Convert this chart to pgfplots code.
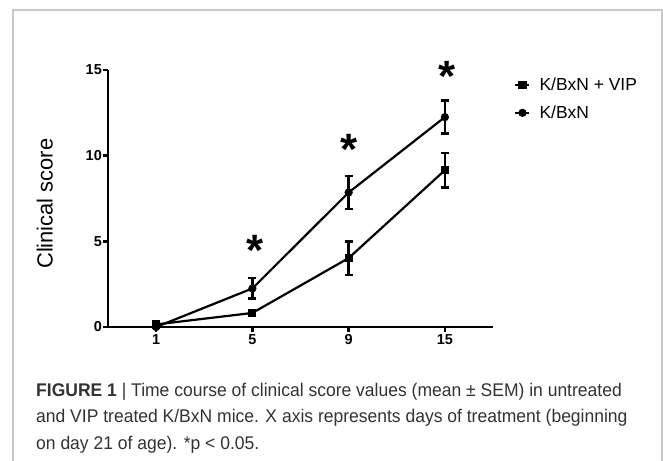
\documentclass[border=0pt]{standalone}
\usepackage{fontspec}
\setmainfont{Liberation Sans}
\newfontfamily\capfont[FakeStretch=0.955]{Liberation Sans}
\usepackage{pgfplots}
\pgfplotsset{compat=1.18}
\definecolor{bordergray}{RGB}{200,200,200}
\definecolor{captext}{RGB}{50,50,50}

\pgfplotstableread{
x y e
0 0.15 0
1 0.82 0
2 4.02 0.98
3 9.15 1.02
}\vipdata
\pgfplotstableread{
x y e
0 0.0 0
1 2.25 0.6
2 7.85 0.97
3 12.25 0.97
}\kbxndata

\begin{document}
\begin{tikzpicture}[x=1bp,y=1bp]
\useasboundingbox (0,0) rectangle (663,-461);
\draw[bordergray, line width=2bp] (13,-463) -- (13,-10) -- (662,-10) -- (662,-463);
\begin{axis}[
  at={(108bp,-327bp)}, anchor=south west,
  scale only axis, width=385bp, height=257bp,
  xmin=-0.5, xmax=3.5, ymin=0, ymax=15,
  axis x line*=bottom, axis y line*=left,
  axis line style={line width=2.5bp, black},
  xtick={0,1,2,3}, xticklabels={1,5,9,15},
  ytick={0,5,10,15},
  tick align=outside, major tick length=5bp,
  tick style={line width=2.5bp, black},
  tick label style={font=\fontsize{14.5}{14.5}\selectfont\bfseries},
  yticklabel style={inner sep=1bp},
  xticklabel style={inner sep=2bp},
  /pgf/number format/assume math mode=true,
  ylabel={Clinical score},
  every axis y label/.style={at={(axis description cs:-0.164,0.48)}, rotate=90, anchor=center, font=\fontsize{22}{22}\selectfont},
  clip=false,
  legend style={at={(axis description cs:1.055,0.975)}, anchor=north west, draw=none, fill=none,
    inner sep=0pt, font=\fontsize{17.5}{17.5}\selectfont, row sep=12bp, column sep=8bp,
    nodes={inner sep=1bp}},
  legend cell align=left,
  legend image code/.code={\draw[mark repeat=2,mark phase=2,#1] plot coordinates {(0bp,0bp) (7bp,0bp) (14bp,0bp)};},
]
\addplot[black, line width=2.2bp, mark=square*, mark size=3.6bp, mark options={line width=1bp},
  error bars/.cd, y dir=both, y explicit, error bar style={line width=2.5bp},
  error mark=-, error mark options={rotate=90, line width=2.5bp, mark size=4bp, black}]
  table[x=x, y=y, y error=e] {\vipdata};
\addlegendentry{K/BxN + VIP}
\addplot[black, line width=2.2bp, mark=*, mark size=3.6bp, mark options={line width=1bp},
  error bars/.cd, y dir=both, y explicit, error bar style={line width=2.5bp},
  error mark=-, error mark options={rotate=90, line width=2.5bp, mark size=4bp, black}]
  table[x=x, y=y, y error=e] {\kbxndata};
\addlegendentry{K/BxN}
\addplot[draw=none, mark=none, forget plot, nodes near coords, point meta=explicit symbolic,
  nodes near coords style={anchor=center, inner sep=0pt, yshift=-7bp, font=\fontsize{44}{44}\selectfont\bfseries}]
  coordinates {(1.03,4.9)[*] (2,10.8)[*] (3.02,15.05)[*]};
\end{axis}
\begin{scope}[every node/.style={anchor=base west, inner sep=0pt, text=captext, font=\capfont\fontsize{18.4}{18.4}\selectfont}]
\node at (36,-396) {\textbf{FIGURE 1} | Time course of clinical score values (mean ± SEM) in untreated};
\node at (36,-422) {and VIP treated K/BxN mice. X axis represents days of treatment (beginning};
\node at (36,-449) {on day 21 of age). *p < 0.05.};
\end{scope}
\end{tikzpicture}
\end{document}
